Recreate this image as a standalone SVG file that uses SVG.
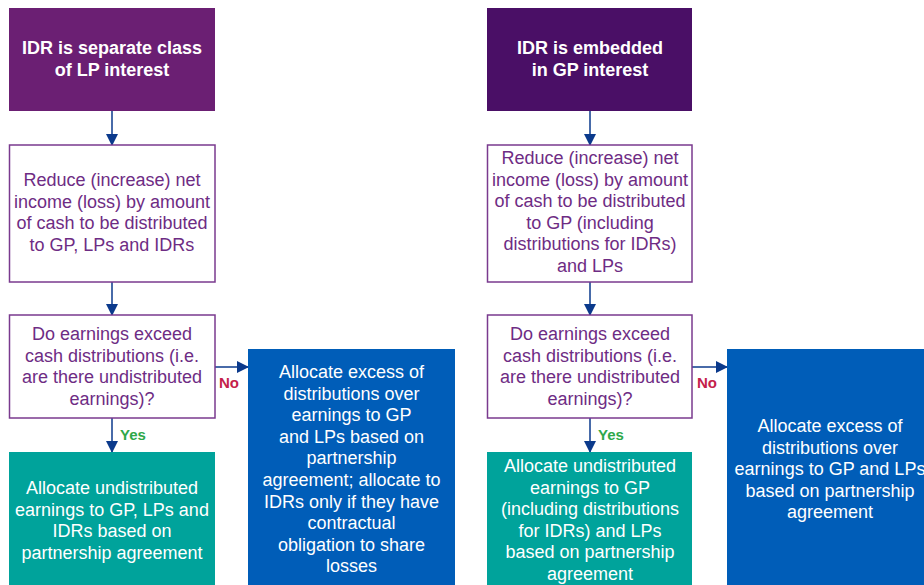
<svg xmlns="http://www.w3.org/2000/svg" width="924" height="585" viewBox="0 0 924 585">
<defs>
<marker id="ah" markerWidth="12" markerHeight="12" viewBox="0 0 12 12" refX="11" refY="6" orient="auto" markerUnits="userSpaceOnUse">
<path d="M0,0 L12,6 L0,12 Z" fill="#0B3A8C"/>
</marker>
<style>
.hdr{font-family:"Liberation Sans",Arial,sans-serif;font-size:18px;font-weight:bold;fill:#fff;text-anchor:middle}
.pt{font-family:"Liberation Sans",Arial,sans-serif;font-size:18px;fill:#6E2C84;text-anchor:middle}
.wt{font-family:"Liberation Sans",Arial,sans-serif;font-size:18px;fill:#fff;text-anchor:middle}
.ob{fill:#fff;stroke:#7A3A8E;stroke-width:1.5}
.cn{stroke:#0B3A8C;stroke-width:1.5;fill:none;marker-end:url(#ah)}
.yes{font-family:"Liberation Sans",Arial,sans-serif;font-size:15px;font-weight:bold;fill:#2EA84A}
.no{font-family:"Liberation Sans",Arial,sans-serif;font-size:15px;font-weight:bold;fill:#C4204A}
</style>
</defs>
<rect width="924" height="585" fill="#fff"/>
<g id="connectors">
<line class="cn" x1="112" y1="111" x2="112" y2="145"/>
<line class="cn" x1="112" y1="282" x2="112" y2="315"/>
<line class="cn" x1="112" y1="418" x2="112" y2="452"/>
<line class="cn" x1="215" y1="367" x2="248" y2="367"/>
<line class="cn" x1="590" y1="111" x2="590" y2="145"/>
<line class="cn" x1="590" y1="282" x2="590" y2="315"/>
<line class="cn" x1="590" y1="418" x2="590" y2="452"/>
<line class="cn" x1="692" y1="367" x2="727" y2="367"/>
<text class="yes" x="120" y="440">Yes</text>
<text class="no" x="219" y="388">No</text>
<text class="yes" x="598" y="440">Yes</text>
<text class="no" x="697" y="388">No</text>
</g>
<g id="n1">
<rect x="9" y="8" width="206" height="103" fill="#6B1F73"/>
<text class="hdr" x="112" y="54">IDR is separate class</text>
<text class="hdr" x="112" y="76">of LP interest</text>
</g>
<g id="n2">
<rect class="ob" x="9.5" y="145" width="205.5" height="137"/>
<text class="pt" x="112" y="186">Reduce (increase) net</text>
<text class="pt" x="112" y="207.5">income (loss) by amount</text>
<text class="pt" x="112" y="229">of cash to be distributed</text>
<text class="pt" x="112" y="250.5">to GP, LPs and IDRs</text>
</g>
<g id="n3">
<rect class="ob" x="9.5" y="315" width="205.5" height="103"/>
<text class="pt" x="112" y="340">Do earnings exceed</text>
<text class="pt" x="112" y="361.5">cash distributions (i.e.</text>
<text class="pt" x="112" y="383">are there undistributed</text>
<text class="pt" x="112" y="404.5">earnings)?</text>
</g>
<g id="n4">
<rect x="9" y="452" width="206" height="140" fill="#00A39B"/>
<text class="wt" x="112" y="494">Allocate undistributed</text>
<text class="wt" x="112" y="515.5">earnings to GP, LPs and</text>
<text class="wt" x="112" y="537">IDRs based on</text>
<text class="wt" x="112" y="558.5">partnership agreement</text>
</g>
<g id="n5">
<rect x="248" y="349" width="207" height="243" fill="#005DB8"/>
<text class="wt" x="351.5" y="378">Allocate excess of</text>
<text class="wt" x="351.5" y="399.6">distributions over</text>
<text class="wt" x="351.5" y="421.2">earnings to GP</text>
<text class="wt" x="351.5" y="442.8">and LPs based on</text>
<text class="wt" x="351.5" y="464.4">partnership</text>
<text class="wt" x="351.5" y="486">agreement; allocate to</text>
<text class="wt" x="351.5" y="507.6">IDRs only if they have</text>
<text class="wt" x="351.5" y="529.2">contractual</text>
<text class="wt" x="351.5" y="550.8">obligation to share</text>
<text class="wt" x="351.5" y="572.4">losses</text>
</g>
<g id="n6">
<rect x="487" y="8" width="205" height="103" fill="#4A0F66"/>
<text class="hdr" x="590" y="54">IDR is embedded</text>
<text class="hdr" x="590" y="76">in GP interest</text>
</g>
<g id="n7">
<rect class="ob" x="487.5" y="145" width="204.5" height="137"/>
<text class="pt" x="590" y="164">Reduce (increase) net</text>
<text class="pt" x="590" y="185.5">income (loss) by amount</text>
<text class="pt" x="590" y="207">of cash to be distributed</text>
<text class="pt" x="590" y="228.5">to GP (including</text>
<text class="pt" x="590" y="250">distributions for IDRs)</text>
<text class="pt" x="590" y="271.5">and LPs</text>
</g>
<g id="n8">
<rect class="ob" x="487.5" y="315" width="204.5" height="103"/>
<text class="pt" x="590" y="340">Do earnings exceed</text>
<text class="pt" x="590" y="361.5">cash distributions (i.e.</text>
<text class="pt" x="590" y="383">are there undistributed</text>
<text class="pt" x="590" y="404.5">earnings)?</text>
</g>
<g id="n9">
<rect x="487" y="452" width="205" height="140" fill="#00A39B"/>
<text class="wt" x="590" y="472">Allocate undistributed</text>
<text class="wt" x="590" y="493.5">earnings to GP</text>
<text class="wt" x="590" y="515">(including distributions</text>
<text class="wt" x="590" y="536.5">for IDRs) and LPs</text>
<text class="wt" x="590" y="558">based on partnership</text>
<text class="wt" x="590" y="579.5">agreement</text>
</g>
<g id="n10">
<rect x="727" y="349" width="210" height="243" fill="#005DB8"/>
<text class="wt" x="830" y="432">Allocate excess of</text>
<text class="wt" x="830" y="453.5">distributions over</text>
<text class="wt" x="830" y="475">earnings to GP and LPs</text>
<text class="wt" x="830" y="496.5">based on partnership</text>
<text class="wt" x="830" y="518">agreement</text>
</g>
</svg>
